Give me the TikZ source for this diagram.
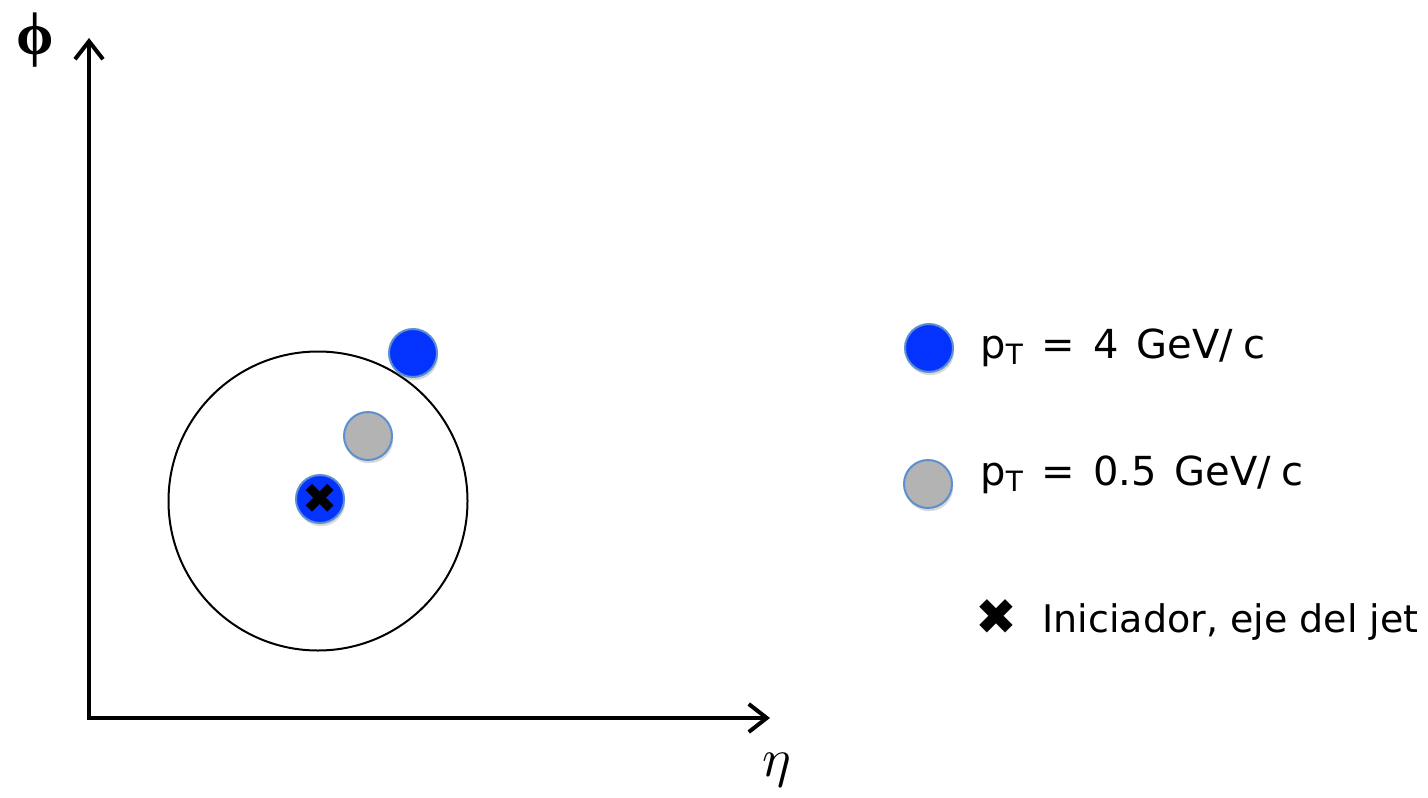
\documentclass[tikz,border=0pt]{standalone}
\usepackage{fontspec}
\setmainfont{DejaVu Sans}
\newfontfamily\symfont{DejaVu Sans}
\newfontfamily\phifont{Liberation Serif}
\usetikzlibrary{arrows.meta,shadows}
\definecolor{ptblue}{HTML}{0433FF}
\definecolor{ptgray}{HTML}{B3B3B3}
\definecolor{ptedge}{HTML}{5B8FD0}
\tikzset{
  axis/.style={line width=2pt,-{Straight Barb[length=9pt,width=14pt,line width=2pt]}},
  particle/.style={circle,minimum size=24pt,inner sep=0pt,draw=ptedge,line width=1pt,
    drop shadow={shadow xshift=0.6pt,shadow yshift=-1.6pt,opacity=0.3}},
  hard/.style={particle,fill=ptblue},
  soft/.style={particle,fill=ptgray},
  legendtext/.style={anchor=base west,font=\fontsize{20}{24}\selectfont,inner sep=0pt},
  crossmark/.style={font=\symfont\fontsize{21}{22}\selectfont,inner sep=0pt},
}
\newcommand{\ptlabel}[2]{p\textsubscript{T}\hspace{0.45em}=\hspace{0.45em}#1\hspace{0.45em}#2}
\begin{document}
\begin{tikzpicture}[x=0.5pt,y=-0.5pt]
\useasboundingbox (0,0) rectangle (1428,797);
% axes
\coordinate (origin) at (89,718);
\coordinate (ytip) at (89,38);
\coordinate (xtip) at (770,718);
\draw[axis] ([yshift=-1pt]origin) -- (ytip);
\draw[axis] ([xshift=-1pt]origin) -- (xtip);
\node[font=\phifont\bfseries\fontsize{30}{32}\selectfont,inner sep=0pt] (phi) at (35,40) {ϕ};
\node[inner sep=0pt] (eta) at (777,770) {\scalebox{2.7}{$\eta$}};
% jet cone
\node[circle,draw,line width=1pt,minimum size=149.5pt,inner sep=0pt] (cone) at (318,501) {};
% particles
\node[hard] (p1) at (413,353) {};
\node[soft] (p2) at (368,436) {};
\node[hard] (p0) at (320,499) {};
\node[crossmark] (x0) at (320,499) {✖};
% legend
\node[hard] (l1) at (929,348) {};
\node[soft] (l2) at (928,484) {};
\node[crossmark,font=\symfont\fontsize{25}{26}\selectfont] (l3) at (996,617) {✖};
\node[legendtext] (t1) at (980,358) {\ptlabel{4}{GeV/\hspace{0.25em}c}};
\node[legendtext] (t2) at (980,485) {\ptlabel{0.5}{GeV/\hspace{0.25em}c}};
\node[legendtext,font=\fontsize{19}{24}\selectfont] (t3) at (1042,632) {Iniciador, eje del jet};
\end{tikzpicture}
\end{document}
